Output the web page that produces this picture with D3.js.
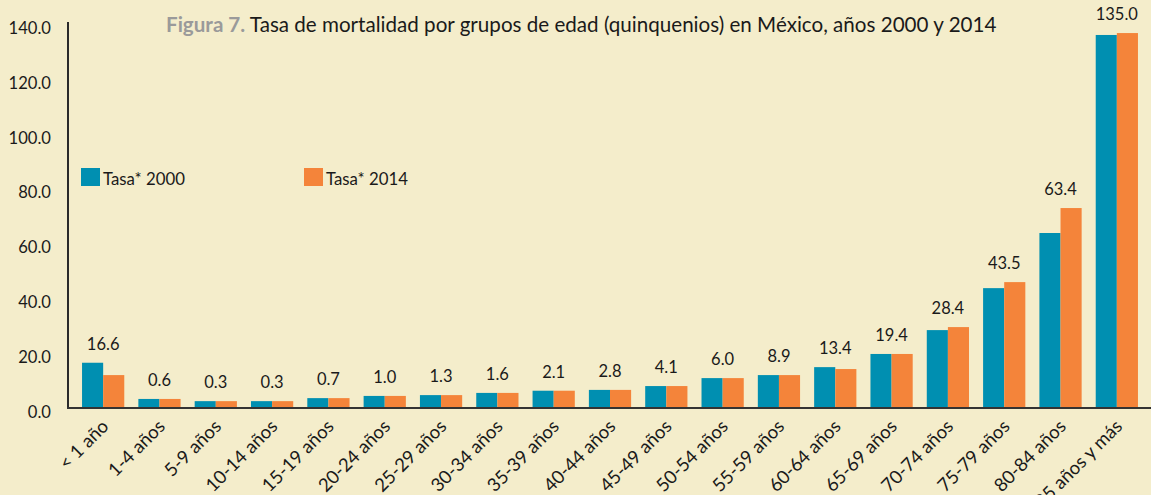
<!DOCTYPE html>
<html>
<head>
<meta charset="utf-8">
<script src="https://cdn.jsdelivr.net/npm/d3@7"></script>
<style>
  html, body { margin: 0; padding: 0; background: #f4edcb; }
  svg { display: block; }
  text { font-family: Lato, "Open Sans", sans-serif; fill: #1a1a1a; }
</style>
</head>
<body>
<svg id="chart" width="1151" height="495"></svg>
<script>
const categories = ["< 1 año", "1-4 años", "5-9 años", "10-14 años", "15-19 años", "20-24 años",
  "25-29 años", "30-34 años", "35-39 años", "40-44 años", "45-49 años", "50-54 años",
  "55-59 años", "60-64 años", "65-69 años", "70-74 años", "75-79 años", "80-84 años", "85 años y más"];
const rate2000 = [16.5, 3.3, 2.5, 2.5, 3.6, 4.4, 4.7, 5.5, 6.3, 6.6, 8.0, 10.9, 12.0, 14.9, 19.7, 28.4, 43.7, 63.8, 136.0];
const rate2014 = [12.0, 3.3, 2.5, 2.5, 3.6, 4.4, 4.7, 5.5, 6.3, 6.6, 8.0, 10.9, 12.0, 14.2, 19.7, 29.5, 45.9, 72.9, 136.7];
const valueLabels = ["16.6", "0.6", "0.3", "0.3", "0.7", "1.0", "1.3", "1.6", "2.1", "2.8", "4.1", "6.0",
  "8.9", "13.4", "19.4", "28.4", "43.5", "63.4", "135.0"];
const yTicks = [0, 20, 40, 60, 80, 100, 120, 140];
const seriesNames = ["Tasa* 2000", "Tasa* 2014"];
const colors = ["#008fb1", "#f4843a"];

const svg = d3.select("#chart");
const W = 1151, H = 495;
const axisX = 68, baseY = 408, topY = 24;

const x = d3.scaleBand().domain(categories).range([75, 1145]).paddingInner(0.25).paddingOuter(0.125);
const xs = d3.scaleBand().domain([0, 1]).range([0, x.bandwidth()]);
const y = d3.scaleLinear().domain([0, 140]).range([baseY, topY]);

// Title
const title = svg.append("text").attr("x", 166).attr("y", 32).style("font-size", "20.6px");
title.append("tspan").text("Figura 7.").style("fill", "#9a9a9a").style("font-weight", "bold");
title.append("tspan").text(" Tasa de mortalidad por grupos de edad (quinquenios) en México, años 2000 y 2014");

// Y tick labels
svg.append("g").selectAll("text").data(yTicks).join("text")
  .attr("x", 51).attr("y", d => y(d) + 4).attr("dy", "0.35em")
  .attr("text-anchor", "end").style("font-size", "16.6px")
  .text(d => d3.format(".1f")(d));

// Bars
const groups = svg.append("g").selectAll("g").data(categories).join("g")
  .attr("transform", d => `translate(${x(d)},0)`);
groups.selectAll("rect").data((d, i) => [rate2000[i], rate2014[i]]).join("rect")
  .attr("x", (d, j) => xs(j)).attr("width", xs.bandwidth())
  .attr("y", d => y(d)).attr("height", d => y(0) - y(d))
  .attr("fill", (d, j) => colors[j]);

// Value labels
svg.append("g").selectAll("text").data(categories).join("text")
  .attr("x", d => x(d) + x.bandwidth() / 2)
  .attr("y", (d, i) => y(Math.max(rate2000[i], rate2014[i])) - 13)
  .attr("text-anchor", "middle").style("font-size", "16.5px")
  .text((d, i) => valueLabels[i]);

// Axes lines
svg.append("line").attr("x1", axisX).attr("x2", axisX).attr("y1", topY - 2).attr("y2", baseY)
  .attr("stroke", "#2a2a2a").attr("stroke-width", 2);
svg.append("line").attr("x1", axisX - 1).attr("x2", W).attr("y1", baseY).attr("y2", baseY)
  .attr("stroke", "#333", ).attr("stroke-width", 2);

// X labels
svg.append("g").selectAll("text").data(categories).join("text")
  .attr("transform", d => `translate(${x(d) + x.bandwidth() / 2 + 2},${baseY + 15}) rotate(-45)`)
  .attr("text-anchor", "end").attr("dy", "0.35em").style("font-size", "18.5px")
  .text(d => d);

// Legend
const leg = svg.append("g").selectAll("g").data(seriesNames).join("g")
  .attr("transform", (d, i) => `translate(${[81, 304][i]},168)`);
leg.append("rect").attr("width", 19).attr("height", 18).attr("fill", (d, i) => colors[i]);
leg.append("text").attr("x", 22).attr("y", 17).style("font-size", "16.8px").text(d => d);
</script>
</body>
</html>
